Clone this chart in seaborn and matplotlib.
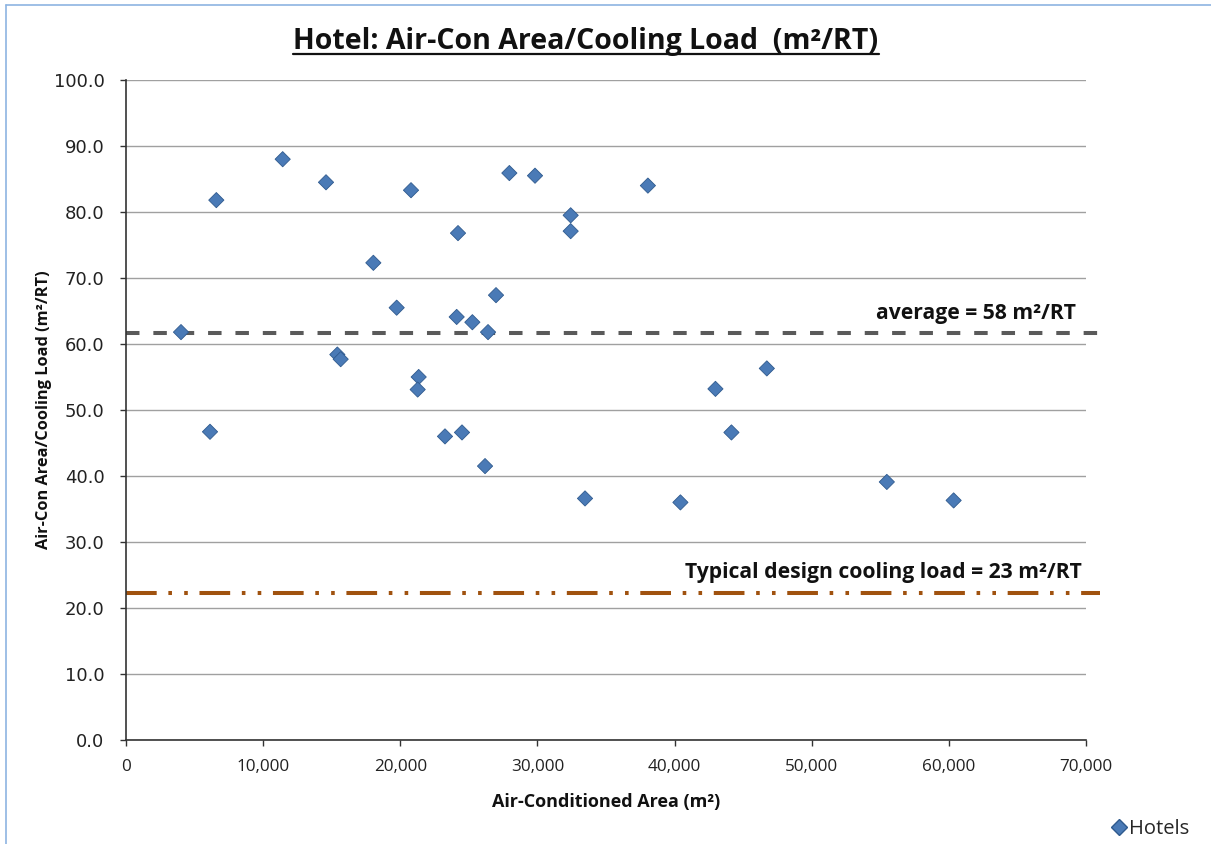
import matplotlib
matplotlib.use("Agg")
import matplotlib.pyplot as plt
import seaborn as sns
import pandas as pd
from matplotlib.lines import Line2D
from matplotlib.ticker import FuncFormatter

# ---- data ----
area_m2 = [4011, 6125, 6586, 11425, 14584, 15410, 15653, 18036, 19737, 20782,
           21341, 21268, 23260, 24112, 24209, 24500, 25255, 26180, 26398, 26980,
           27953, 29824, 32424, 32424, 33470, 38055, 40426, 42980, 44146, 46727,
           55477, 60349]
area_per_rt = [61.8, 46.7, 81.8, 88.0, 84.5, 58.4, 57.7, 72.3, 65.5, 83.3,
               55.0, 53.1, 46.0, 64.1, 76.8, 46.6, 63.3, 41.5, 61.8, 67.4,
               85.9, 85.5, 79.5, 77.1, 36.6, 84.0, 36.0, 53.2, 46.6, 56.3,
               39.1, 36.3]
ref_x = [0, 71000]
average_y = [61.6, 61.6]
design_y = [22.3, 22.3]

y_ticks = [0, 10, 20, 30, 40, 50, 60, 70, 80, 90, 100]
x_ticks = [0, 10000, 20000, 30000, 40000, 50000, 60000, 70000]

df = pd.DataFrame({"area": area_m2, "ratio": area_per_rt, "series": "Hotels"})

sns.set_theme(style="white")
plt.rcParams["font.family"] = ["Open Sans", "DejaVu Sans"]
plt.rcParams["lines.scale_dashes"] = False

fig = plt.figure(figsize=(12.11, 8.44), dpi=100)
ax = fig.add_axes([126 / 1211, 1 - 740 / 844, 960 / 1211, 660 / 844])

# gridlines
ax.set_axisbelow(True)
ax.yaxis.grid(True, color="#a0a0a0", linewidth=1.0)
ax.xaxis.grid(False)

# reference lines
ax.plot(ref_x, average_y, color="#5a5a5a", linewidth=2.9,
        linestyle=(0, (9.7, 10.0)), clip_on=False, zorder=2)
ax.plot(ref_x, design_y, color="#A0520F", linewidth=2.9,
        linestyle=(0, (22.1, 8.4, 2.6, 8.8, 2.6, 8.4)), clip_on=False, zorder=2)

sns.scatterplot(data=df, x="area", y="ratio", hue="series",
                palette=["#4A7AB6"], marker="D", s=60,
                edgecolor="#2F5A8E", linewidth=0.6, ax=ax, zorder=3,
                legend=False)

ax.set_xlim(0, 70000)
ax.set_ylim(0, 100)
ax.set_xticks(x_ticks)
ax.set_yticks(y_ticks)
ax.xaxis.set_major_formatter(FuncFormatter(lambda v, p: f"{int(v):,}"))
ax.yaxis.set_major_formatter(FuncFormatter(lambda v, p: f"{v:.1f}"))
for lab in ax.get_yticklabels():
    lab.set_fontfamily("DejaVu Sans")
    lab.set_fontsize(13)
    lab.set_color("#222222")
for lab in ax.get_xticklabels():
    lab.set_fontsize(12.3)
    lab.set_color("#222222")

for side in ["top", "right"]:
    ax.spines[side].set_visible(False)
for side in ["left", "bottom"]:
    ax.spines[side].set_color("#333333")
    ax.spines[side].set_linewidth(1.2)
ax.tick_params(axis="both", which="major", direction="out", length=4.5,
               width=1.0, color="#333333", bottom=True, left=True)
ax.tick_params(axis="x", pad=9)
ax.tick_params(axis="y", pad=11)

ax.set_xlabel("Air-Conditioned Area (m²)", fontsize=13, fontweight="bold",
              labelpad=13, color="#111111")
ax.set_ylabel("Air-Con Area/Cooling Load (m²/RT)", fontsize=11.8,
              fontweight="bold", labelpad=1.5, color="#111111")

ax.text(69250, 63.0, "average = 58 m²/RT", ha="right", va="bottom",
        fontsize=15.2, fontweight="bold", color="#111111")
ax.text(69700, 23.8, "Typical design cooling load = 23 m²/RT", ha="right",
        va="bottom", fontsize=15.2, fontweight="bold", color="#111111")

title = fig.text(586 / 1211, 1 - 42 / 844, "Hotel: Air-Con Area/Cooling Load  (m²/RT)",
                 ha="center", va="center", fontsize=20.5, fontweight="bold",
                 color="#111111")

# legend
handle = Line2D([], [], marker="D", linestyle="none", markersize=8,
                markerfacecolor="#4A7AB6", markeredgecolor="#2F5A8E")
fig.legend([handle], ["Hotels"], loc="center left",
           bbox_to_anchor=(1100 / 1211, 1 - 829 / 844), frameon=False,
           fontsize=14.5, handletextpad=0.05, borderpad=0, handlelength=0.9)

# underline the title
fig.canvas.draw()
bb = title.get_window_extent().transformed(fig.transFigure.inverted())
fig.add_artist(Line2D([bb.x0, bb.x1], [bb.y0 + 0.003, bb.y0 + 0.003],
                      transform=fig.transFigure, color="#111111", linewidth=1.6))

# chart frame edges (light blue)
fig.add_artist(Line2D([6 / 1211, 6 / 1211], [0, 1 - 5 / 844],
                      transform=fig.transFigure, color="#8DB4E2", linewidth=1.2))
fig.add_artist(Line2D([6 / 1211, 1], [1 - 5 / 844, 1 - 5 / 844],
                      transform=fig.transFigure, color="#8DB4E2", linewidth=1.2))

fig.savefig("out.png", dpi=100)
